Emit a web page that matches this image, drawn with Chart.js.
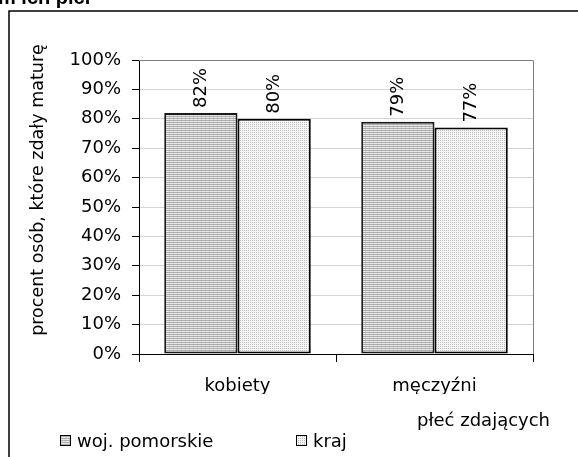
<!DOCTYPE html>
<html>
<head>
<meta charset="utf-8">
<script src="https://cdn.jsdelivr.net/npm/chart.js@4.4.1/dist/chart.umd.min.js"></script>
<style>
  html, body { margin: 0; padding: 0; background: #fff; }
  #wrap { width: 578px; height: 457px; position: relative; }
</style>
</head>
<body>
<div id="wrap"><canvas id="wykres" width="578" height="457"></canvas></div>
<script>
// dane
const categories = ['kobiety', 'męczyźni'];
const seriesNames = ['woj. pomorskie', 'kraj'];
const pomorskie = [82, 79];
const kraj = [80, 77];
const yMin = 0, yMax = 100, yStep = 10;
const yTitle = 'procent osób, które zdały maturę';
const xTitle = 'płeć zdających';
const topTitle = 'm ich płci';

const FONT = 'DejaVu Sans';

// wzorki wypełnienia słupków
function hatchPattern() {
    const c = document.createElement('canvas');
    c.width = 4; c.height = 2;
    const g = c.getContext('2d');
    g.fillStyle = '#ececec';
    g.fillRect(0, 0, 4, 2);
    g.fillStyle = '#acacac';
    g.fillRect(0, 0, 4, 1);
    g.fillStyle = '#d4d4d4';
    g.fillRect(1, 1, 1, 1);
    return g.createPattern(c, 'repeat');
}
function dotPattern() {
    const c = document.createElement('canvas');
    c.width = 2; c.height = 2;
    const g = c.getContext('2d');
    g.fillStyle = '#f6f6f6';
    g.fillRect(0, 0, 2, 2);
    g.fillStyle = '#bdbdbd';
    g.fillRect(0, 0, 1, 1);
    return g.createPattern(c, 'repeat');
}
const fills = [hatchPattern(), dotPattern()];

// ramka, tytuły, legenda, etykiety danych
const dekoracje = {
    id: 'dekoracje',
    beforeDraw(chart) {
        const ctx = chart.ctx;
        ctx.save();
        ctx.fillStyle = '#fff';
        ctx.fillRect(0, 0, chart.width, chart.height);
        ctx.strokeStyle = '#000';
        ctx.lineWidth = 1.5;
        ctx.beginPath();
        ctx.moveTo(9, chart.height + 2);
        ctx.lineTo(9, 11);
        ctx.lineTo(chart.width + 2, 11);
        ctx.stroke();
        ctx.fillStyle = '#000';
        ctx.font = 'bold 20px "Liberation Sans"';
        ctx.textBaseline = 'alphabetic';
        ctx.fillText(topTitle, -2, 4);
        ctx.restore();
    },
    afterDraw(chart) {
        const ctx = chart.ctx;
        const a = chart.chartArea;
        ctx.save();
        // obramowanie obszaru wykresu (góra/prawo)
        ctx.strokeStyle = '#808080';
        ctx.lineWidth = 1;
        ctx.beginPath();
        ctx.moveTo(a.left, a.top + 0.5);
        ctx.lineTo(a.right + 0.5, a.top + 0.5);
        ctx.lineTo(a.right + 0.5, a.bottom);
        ctx.stroke();
        // prawy znacznik osi X
        ctx.strokeStyle = '#000';
        ctx.beginPath();
        ctx.moveTo(a.right + 0.5, a.bottom);
        ctx.lineTo(a.right + 0.5, a.bottom + 8);
        ctx.stroke();

        ctx.fillStyle = '#000';
        // etykiety wartości (obrócone)
        ctx.font = '18px "' + FONT + '"';
        chart.data.datasets.forEach((ds, i) => {
            chart.getDatasetMeta(i).data.forEach((bar, j) => {
                ctx.save();
                ctx.translate(bar.x, bar.y - 5);
                ctx.rotate(-Math.PI / 2);
                ctx.textAlign = 'left';
                ctx.textBaseline = 'middle';
                ctx.fillText(ds.data[j] + '%', 0, 0);
                ctx.restore();
            });
        });

        // tytuł osi Y
        ctx.save();
        ctx.font = '17.5px "' + FONT + '"';
        ctx.translate(38, 190);
        ctx.rotate(-Math.PI / 2);
        ctx.textAlign = 'center';
        ctx.textBaseline = 'middle';
        ctx.fillText(yTitle, 0, 0);
        ctx.restore();

        // tytuł osi X
        ctx.font = '18px "' + FONT + '"';
        ctx.textAlign = 'left';
        ctx.textBaseline = 'alphabetic';
        ctx.fillText(xTitle, 417, 426);

        // legenda
        const legX = [60, 296];
        chart.data.datasets.forEach((ds, i) => {
            ctx.fillStyle = ds.backgroundColor;
            ctx.fillRect(legX[i], 435, 11, 11);
            ctx.strokeStyle = '#000';
            ctx.lineWidth = 1;
            ctx.strokeRect(legX[i] + 0.5, 435.5, 10, 10);
            ctx.fillStyle = '#000';
            ctx.fillText(ds.label, legX[i] + 17, 447);
        });
        ctx.restore();
    }
};

Chart.defaults.font.family = FONT;
Chart.defaults.font.size = 18;
Chart.defaults.color = '#000';

const ctx = document.getElementById('wykres').getContext('2d');
const wykres = new Chart(ctx, {
    type: 'bar',
    data: {
        labels: categories,
        datasets: [
            {
                label: seriesNames[0],
                data: pomorskie,
                backgroundColor: fills[0],
                borderColor: '#1a1a1a',
                borderWidth: 2,
                borderSkipped: false
            },
            {
                label: seriesNames[1],
                data: kraj,
                backgroundColor: fills[1],
                borderColor: '#000',
                borderWidth: 2,
                borderSkipped: false
            }
        ]
    },
    options: {
        responsive: false,
        animation: false,
        categoryPercentage: 0.744,
        barPercentage: 1,
        layout: {
            padding: { left: 0, top: 60, right: 45, bottom: 63 }
        },
        plugins: {
            legend: { display: false },
            tooltip: { enabled: false }
        },
        scales: {
            x: {
                afterFit: function(scale) { scale.height = 40; },
                grid: {
                    offset: true,
                    drawOnChartArea: false,
                    tickLength: 8,
                    tickColor: '#000'
                },
                border: { color: '#000', width: 1 },
                ticks: { padding: 14 }
            },
            y: {
                min: yMin,
                max: yMax,
                afterFit: function(scale) { scale.width = 139; },
                grid: {
                    color: '#d4d4d4',
                    tickLength: 7,
                    tickColor: '#000'
                },
                border: { color: '#000', width: 1 },
                ticks: {
                    stepSize: yStep,
                    padding: 11,
                    callback: function(value) {
                        return value + '%';
                    }
                }
            }
        }
    },
    plugins: [dekoracje]
});
</script>
</body>
</html>
